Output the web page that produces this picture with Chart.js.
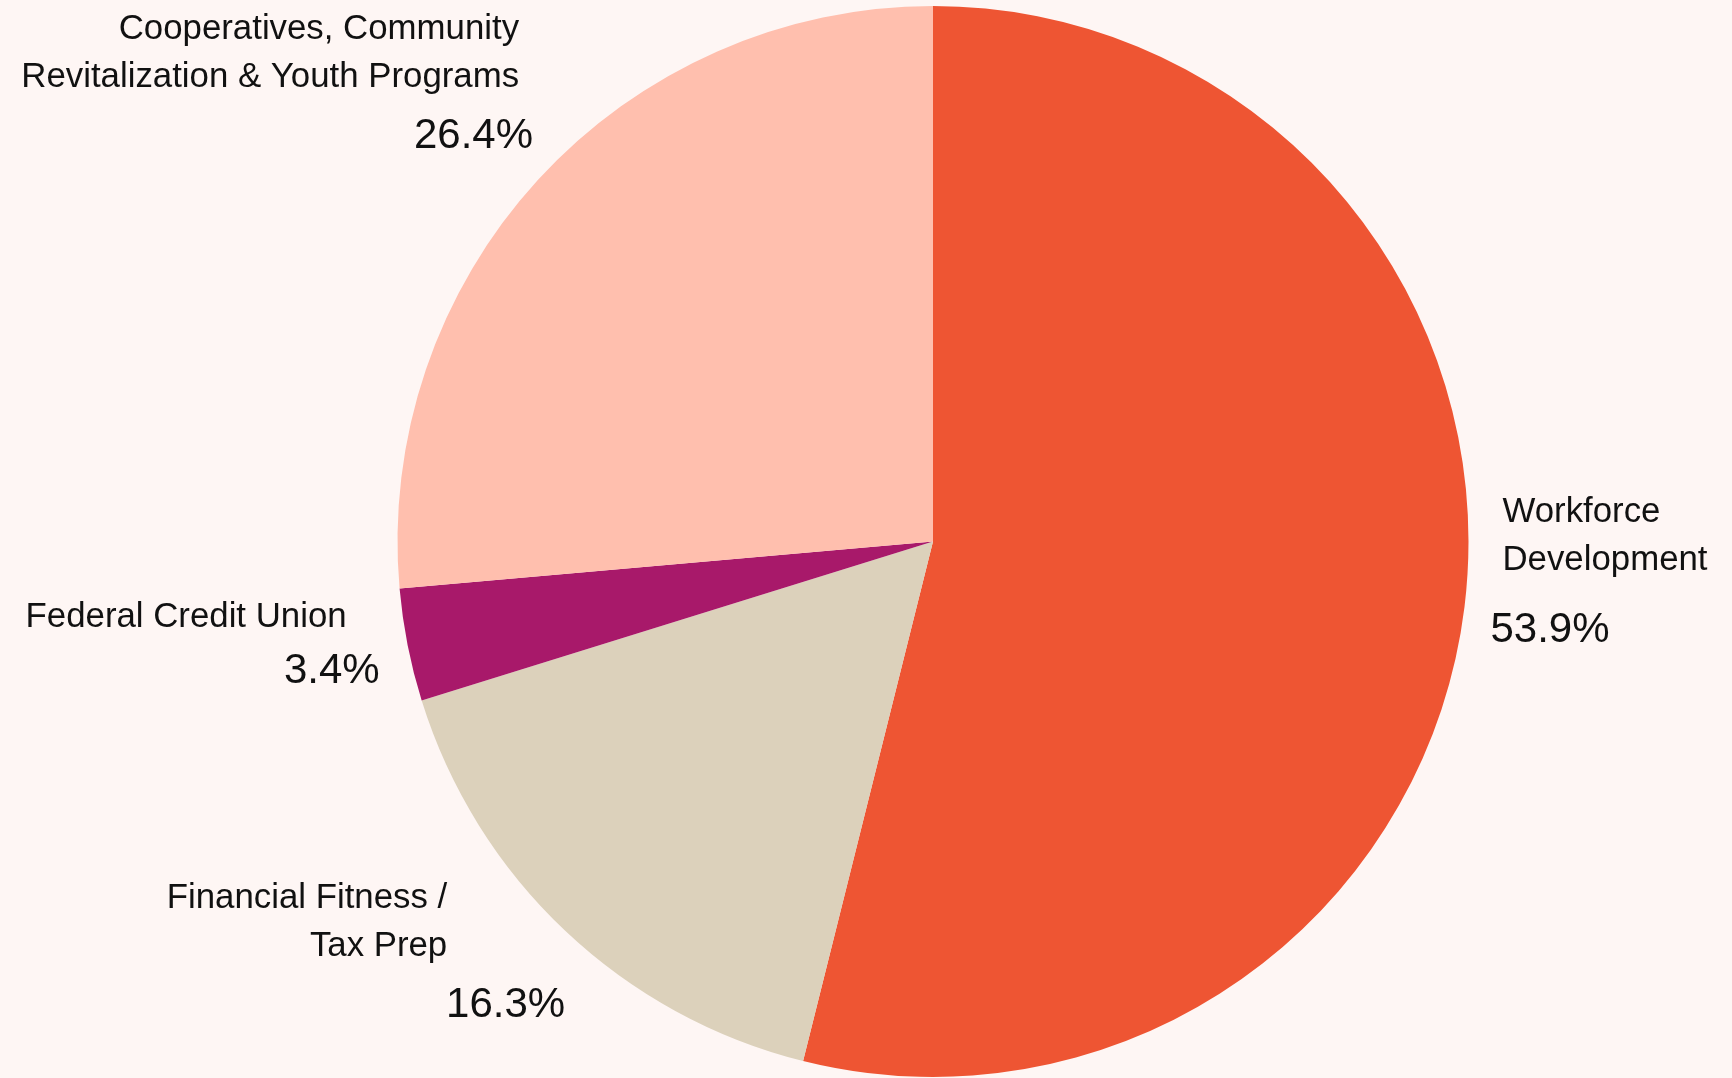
<!DOCTYPE html>
<html>
<head>
<meta charset="utf-8">
<script src="https://cdn.jsdelivr.net/npm/chart.js@4/dist/chart.umd.min.js"></script>
<style>
	html, body { margin: 0; padding: 0; background: #fef6f4; }
	#wrap { width: 1732px; height: 1078px; position: relative; }
</style>
</head>
<body>
<div id="wrap"><canvas id="pie-canvas"></canvas></div>
<script>
// data, clockwise from 12 o'clock
const categories = [
	["Workforce", "Development"],
	["Financial Fitness /", "Tax Prep"],
	["Federal Credit Union"],
	["Cooperatives, Community", "Revitalization & Youth Programs"]
];
const shares = [53.9, 16.3, 3.4, 26.4];
const slice_colors = ["#ee5533", "#dcd1bb", "#a8196a", "#ffbfae"];

// where each label sits, relative to the point on the rim at the slice middle
const label_nudge = [
	{ side: "left",  name_dx: 38,   name_dy: -85,  pct_dx: 26,  pct_dy: 35 },
	{ side: "right", name_dx: -118, name_dy: -23,  pct_dx: 0,   pct_dy: 86 },
	{ side: "right", name_dx: -61,  name_dy: -18,  pct_dx: -28, pct_dy: 38 },
	{ side: "right", name_dx: -19,  name_dy: -141, pct_dx: -5,  pct_dy: -32 }
];

const outside_labels = {
	id: "outside_labels",
	beforeDraw (chart) {
		let ctx = chart.ctx;
		ctx.save();
		ctx.fillStyle = "#fef6f4";
		ctx.fillRect(0, 0, chart.width, chart.height);
		ctx.restore();
	},
	afterDraw (chart) {
		let ctx = chart.ctx;
		let arcs = chart.getDatasetMeta(0).data;
		ctx.save();
		ctx.fillStyle = "#111111";
		ctx.textBaseline = "alphabetic";
		arcs.forEach((arc, i) => {
			let mid = (arc.startAngle + arc.endAngle) / 2;
			let ax = arc.x + Math.cos(mid) * arc.outerRadius;
			let ay = arc.y + Math.sin(mid) * arc.outerRadius;
			let nudge = label_nudge[i];
			ctx.textAlign = nudge.side;
			ctx.font = "34.8px 'Liberation Sans', Arial, sans-serif";
			categories[i].forEach((line, k) => {
				ctx.fillText(line, ax + nudge.name_dx, ay + nudge.name_dy + k * 48.5);
			});
			ctx.font = "42px 'Liberation Sans', Arial, sans-serif";
			ctx.fillText(shares[i].toFixed(1) + "%", ax + nudge.pct_dx, ay + nudge.pct_dy);
		});
		ctx.restore();
	}
};

const config = {
	type: "pie",
	data: {
		labels: categories.map(c => c.join(" ")),
		datasets: [{
			data: shares,
			backgroundColor: slice_colors,
			borderWidth: 0
		}]
	},
	options: {
		responsive: true,
		maintainAspectRatio: false,
		animation: false,
		layout: {
			padding: { left: 134, right: 0, top: 6, bottom: 1 }
		},
		plugins: {
			legend: { display: false },
			tooltip: { enabled: false }
		}
	},
	plugins: [outside_labels]
};

new Chart(document.getElementById("pie-canvas"), config);
</script>
</body>
</html>
